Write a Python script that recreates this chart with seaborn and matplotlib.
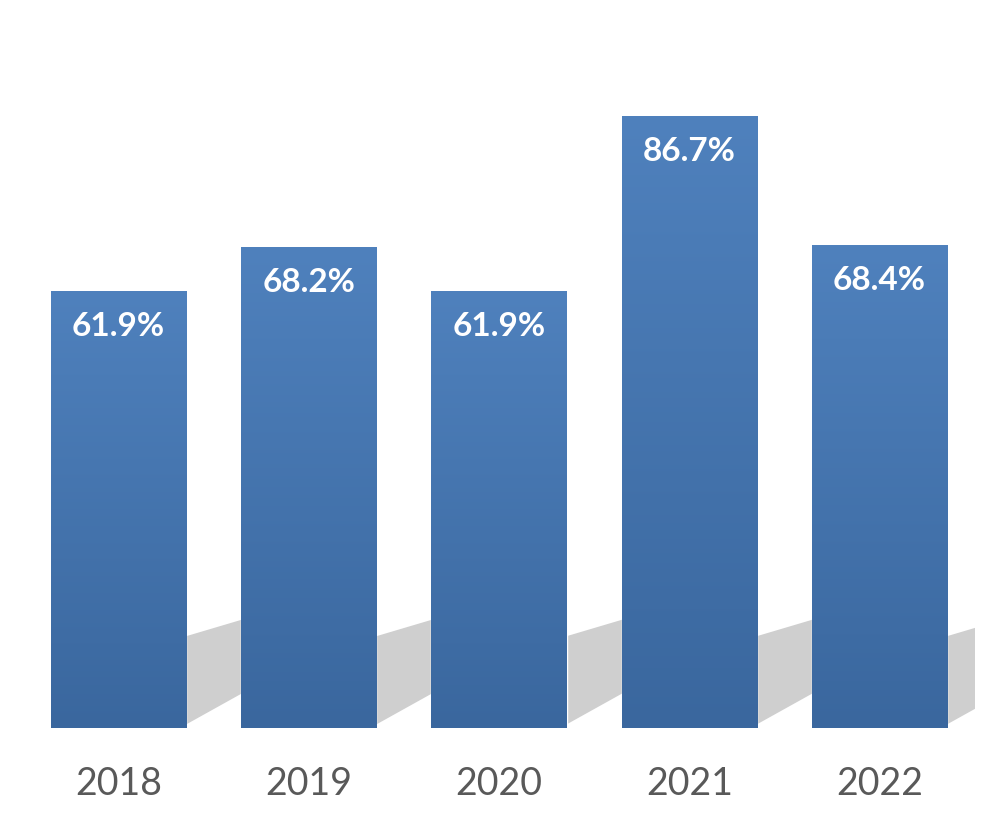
import numpy as np
import pandas as pd
import matplotlib
matplotlib.use("Agg")
import matplotlib.pyplot as plt
import seaborn as sns
from matplotlib.patches import Polygon
from matplotlib.colors import LinearSegmentedColormap

years = ["2018", "2019", "2020", "2021", "2022"]
values = [61.9, 68.2, 61.9, 86.7, 68.4]
labels = ["61.9%", "68.2%", "61.9%", "86.7%", "68.4%"]

sns.set_theme(style="white")
plt.rcParams["font.family"] = ["Lato", "DejaVu Sans"]

fig = plt.figure(figsize=(9.98, 8.2), dpi=100)
ax = fig.add_axes([23.5 / 998, 91 / 820, 951 / 998, 706 / 820])

df = pd.DataFrame({"year": years, "value": values})
sns.barplot(data=df, x="year", y="value", color="#4A7AB5", width=0.71,
            saturation=1, ax=ax, zorder=3)

ax.set_xlim(-0.5, 4.5)
ax.set_ylim(0, 100)

cmap = LinearSegmentedColormap.from_list("g", ["#3A679E", "#4F81BD"])
grad = np.linspace(0, 1, 256).reshape(-1, 1)

for bar in ax.patches:
    x0 = bar.get_x()
    w = bar.get_width()
    h = bar.get_height()
    # gradient fill
    im = ax.imshow(grad, extent=[x0, x0 + w, 0, h], origin="lower",
                   cmap=cmap, aspect="auto", zorder=4)
    im.set_clip_path(bar)
    # soft perspective shadow to the right
    xr = x0 + w
    dx = 0.5
    for k, a in enumerate([0.2, 0.3, 0.4, 0.6, 1.0]):
        s = (4 - k) * 0.5
        poly = Polygon([(xr, 0.5 + s), (xr, 13.0 - s),
                        (xr + dx, 13.0 + 4.0 - s), (xr + dx, 8.0 + s)],
                       closed=True, facecolor="#cfcfcf", edgecolor="none",
                       alpha=a, zorder=1)
        ax.add_patch(poly)

ax.set_xlim(-0.5, 4.5)
ax.set_ylim(0, 100)

for i, (v, lab) in enumerate(zip(values, labels)):
    ax.annotate(lab, xy=(i, v), xytext=(0, -25), textcoords="offset points",
                ha="center", va="center", color="white", fontsize=24,
                fontweight="bold", zorder=6)

ax.set_xlabel("")
ax.set_ylabel("")
ax.set_yticks([])
ax.tick_params(axis="x", length=0, pad=27, labelsize=27, labelcolor="#595959")
for s in ax.spines.values():
    s.set_visible(False)

fig.savefig("out.png", dpi=100, facecolor="white")
